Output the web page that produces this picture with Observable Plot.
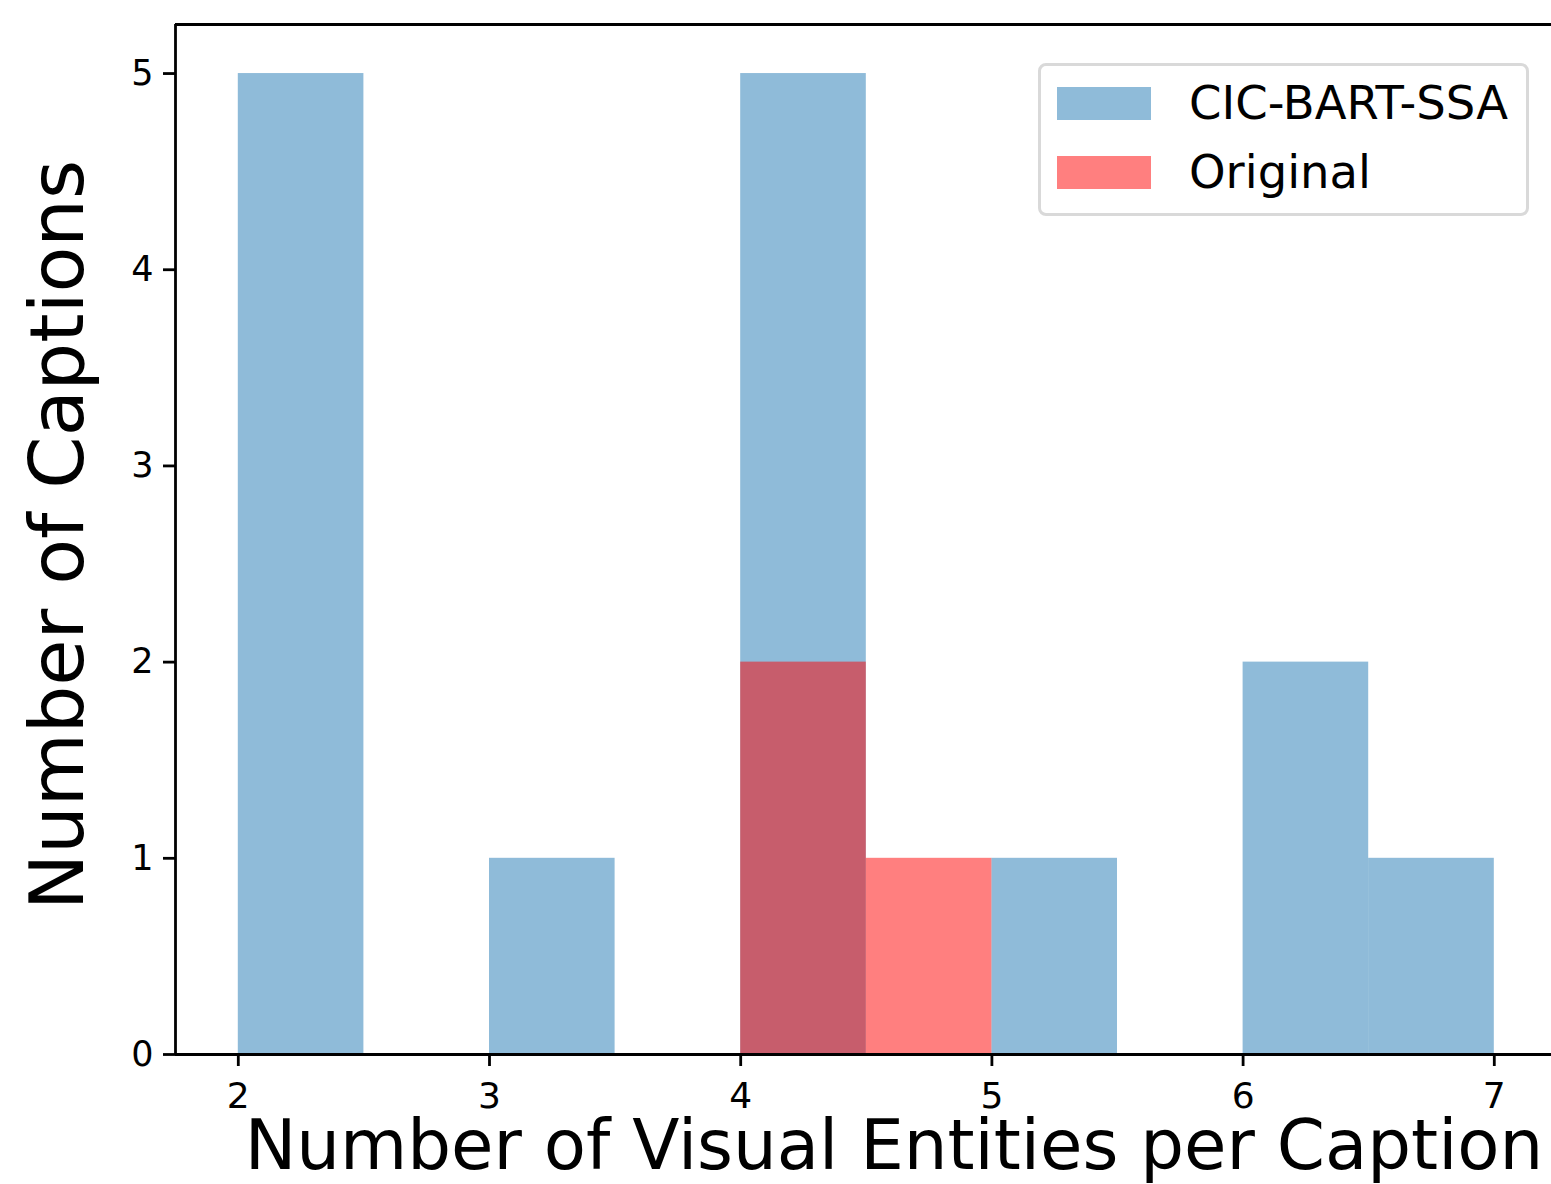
<!DOCTYPE html>
<html>
<head>
<meta charset="utf-8">
<script src="https://cdn.jsdelivr.net/npm/d3@7"></script>
<script src="https://cdn.jsdelivr.net/npm/@observablehq/plot@0.6"></script>
<style>
  html, body { margin: 0; padding: 0; background: #fff; }
  #wrap { position: relative; width: 1551px; height: 1184px; overflow: hidden; font-family: "DejaVu Sans", sans-serif; }
  #legend { position: absolute; left: 1038px; top: 63px; width: 491px; height: 153px; border: 3px solid #d9d9d9; border-radius: 8px; background: rgba(255,255,255,0.8); box-sizing: border-box; }
  .item { position: absolute; left: 16px; height: 34px; display: flex; align-items: center; }
  .sw { width: 94px; height: 33px; }
  .lab { position: absolute; left: 148px; font-size: 46.5px; line-height: 48px; color: #000; white-space: nowrap; }
  #xlab { position: absolute; left: 0; width: 1788px; text-align: center; top: 1121px; font-size: 69px; line-height: 48px; white-space: nowrap; }
  #ylab { position: absolute; left: 57px; top: 535px; font-size: 75px; line-height: 75px; white-space: nowrap; transform: translate(-50%, -50%) rotate(-90deg); }
</style>
</head>
<body>
<div id="wrap"></div>
<script>
// Histogram bins (bin width 0.5)
const binStarts = [2, 2.5, 3, 3.5, 4, 4.5, 5, 5.5, 6, 6.5];
const binWidth = 0.5;
const cicBartCounts = [5, 0, 1, 0, 5, 0, 1, 0, 2, 1];
const originalCounts = [0, 0, 0, 0, 2, 1, 0, 0, 0, 0];
const seriesNames = ["CIC-BART-SSA", "Original"];
const seriesColors = ["#1f77b4", "red"];
const xTicks = [2, 3, 4, 5, 6, 7];
const yTicks = [0, 1, 2, 3, 4, 5];
const xLabel = "Number of Visual Entities per Caption";
const yLabel = "Number of Captions";

const blue = binStarts.map((s, i) => ({x1: s, x2: s + binWidth, y: cicBartCounts[i]})).filter(d => d.y > 0);
const red = binStarts.map((s, i) => ({x1: s, x2: s + binWidth, y: originalCounts[i]})).filter(d => d.y > 0);

const W = 1551, H = 1184;
const mL = 175, mR = 0, mT = 24, mB = 130;
// matplotlib-like 5% margins: x from 1.75; scale 251.2 px per unit
const xMin = 1.75, xMax = 1.75 + (W - mL - mR) / 251.2;
const yMax = 5.25;

const chart = Plot.plot({
  width: W, height: H,
  marginLeft: mL, marginRight: mR, marginTop: mT, marginBottom: mB,
  style: {fontFamily: "DejaVu Sans, sans-serif", background: "#fff", color: "#000"},
  x: {domain: [xMin, xMax]},
  y: {domain: [0, yMax]},
  marks: [
    Plot.rectY(blue, {x1: "x1", x2: "x2", y: "y", fill: seriesColors[0], fillOpacity: 0.5}),
    Plot.rectY(red, {x1: "x1", x2: "x2", y: "y", fill: seriesColors[1], fillOpacity: 0.5}),
    Plot.ruleY([0], {stroke: "#000", strokeWidth: 2.8}),
    Plot.ruleY([yMax], {stroke: "#000", strokeWidth: 2.8}),
    Plot.ruleX([xMin], {stroke: "#000", strokeWidth: 2.8}),
    Plot.axisX({ticks: xTicks, tickSize: 12, tickPadding: 16, fontSize: 36, label: null, strokeWidth: 2.8, tickFormat: d => String(d)}),
    Plot.axisY({ticks: yTicks, tickSize: 12, tickPadding: 10, fontSize: 35, label: null, strokeWidth: 2.8, tickFormat: d => String(d)})
  ]
});

const wrap = document.getElementById("wrap");
wrap.appendChild(chart);

const legend = document.createElement("div");
legend.id = "legend";
seriesNames.forEach((name, i) => {
  const item = document.createElement("div");
  item.className = "item";
  item.style.top = (20 + i * 69) + "px";
  const sw = document.createElement("div");
  sw.className = "sw";
  sw.style.background = seriesColors[i];
  sw.style.opacity = 0.5;
  item.appendChild(sw);
  legend.appendChild(item);
  const lab = document.createElement("div");
  lab.className = "lab";
  lab.textContent = name;
  lab.style.top = (13 + i * 69) + "px";
  legend.appendChild(lab);
});
wrap.appendChild(legend);

const xl = document.createElement("div");
xl.id = "xlab"; xl.textContent = xLabel;
wrap.appendChild(xl);
const yl = document.createElement("div");
yl.id = "ylab"; yl.textContent = yLabel;
wrap.appendChild(yl);
</script>
</body>
</html>
